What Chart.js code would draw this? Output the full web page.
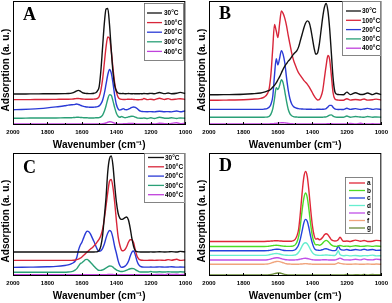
<!DOCTYPE html>
<html><head><meta charset="utf-8">
<script src="https://cdn.jsdelivr.net/npm/chart.js@4.4.1/dist/chart.umd.min.js"></script>
<style>
html,body{margin:0;padding:0;background:#fff;width:392px;height:303px;overflow:hidden}
canvas{position:absolute;display:block}
</style></head>
<body>
<canvas id="cA" width="196" height="152" style="left:0;top:0"></canvas>
<canvas id="cB" width="196" height="152" style="left:196px;top:0"></canvas>
<canvas id="cC" width="196" height="151" style="left:0;top:152px"></canvas>
<canvas id="cD" width="196" height="151" style="left:196px;top:152px"></canvas>
<script>
// Wavenumber grid (cm-1)
const wn = [2000,1950,1900,1850,1800,1750,1700,
 1680,1660,1650,1640,1630,1620,1610,1600,1590,1580,
 1570,1560,1550,1540,1530,1520,1510,1500,1490,1480,
 1470,1460,1450,1440,1430,1420,1410,1400,1390,1380,
 1370,1360,1350,1340,1330,1320,1310,1300,1290,1280,
 1270,1260,1250,1240,
 1220,1200,1180,1150,1120,1100,1080,1050,1030,1000];
const xTickLabels = [2000,1800,1600,1400,1200,1000];
const tempLabels = ['30°C','100°C','200°C','300°C','400°C'];
const sampleLabels = ['a','b','c','d','e','f','g'];

// Panel A
const aT30 = [25.0,25.0,25.1,25.1,25.2,25.2,25.3,
 25.4,25.7,26.1,26.8,27.6,27.9,27.3,26.4,25.8,25.5,
 25.4,25.3,25.3,25.4,25.6,26.0,27.5,31,44,63,
 82,93.5,94,81,61,43,32,27.5,25.8,25.4,
 25.3,25.4,25.2,25.3,25.4,25.3,25.2,25.3,25.2,25.2,
 25.2,25.3,25.2,25.4,
 25.2,25.5,25.2,26.2,25.3,25.8,25.2,25.6,26.3,25.4];
const aT100 = [20.5,20.5,20.5,20.6,20.6,20.7,20.8,
 20.8,20.9,21.0,21.2,21.4,21.4,21.2,21.0,20.9,20.8,
 20.8,20.8,20.8,20.8,20.9,21.0,21.5,23,28,37,
 50,63,71,70,60,46,34,26.5,22.5,21,
 20.7,20.6,20.6,20.7,20.8,20.7,20.8,20.6,20.5,20.4,
 20.4,20.5,20.6,21.4,
 20.5,20.8,20.4,21.6,20.6,21.3,20.5,20.9,21.2,20.6];
const aT200 = [12.3,12.5,12.8,13.2,13.8,14.6,15.5,
 16,16.3,16.4,16.6,16.9,16.5,16,15.4,15,14.7,
 14.5,14.4,14.3,14.3,14.4,14.5,14.8,15.4,17,20,
 25.5,33,40.5,44.8,42,34,24,16.5,13,12,
 12.5,13.2,12.4,12.3,12.8,13.5,14.2,14.5,14.2,13.3,
 12,11.2,10.9,10.8,
 10.7,10.8,10.6,11.1,10.7,10.8,10.6,11.3,10.7,11.4];
const aT300 = [5.5,5.5,5.6,5.6,5.7,5.7,5.8,
 5.8,5.9,6.0,6.1,6.2,6.2,6.1,6.0,5.9,5.8,
 5.8,5.7,5.7,5.7,5.7,5.8,5.8,6.0,6.6,8,
 11,15.5,21,24.5,24,19.5,14,9.5,7,6.2,
 6.9,6.3,5.9,6.1,6.5,6.9,7.1,6.9,6.3,5.8,
 5.5,5.4,5.4,5.6,
 5.3,5.9,5.3,6.2,5.5,5.4,5.8,5.3,5.7,5.4];
const aT400 = [0.8,0.8,0.8,0.8,0.8,0.8,0.8,
 0.8,0.8,0.9,0.9,0.9,0.9,0.9,0.9,0.8,0.8,
 0.8,0.8,0.8,0.8,0.8,0.8,0.8,0.8,0.9,1.0,
 1.2,1.6,2.2,2.6,2.5,2.0,1.4,1.0,0.9,0.9,
 0.9,1.0,1.0,1.1,1.2,1.3,1.3,1.2,1.0,0.9,
 0.8,0.8,0.8,0.9,
 0.8,1.0,0.9,1.4,1.1,0.9,1.3,1.8,1.0,1.5];

// Panel B
const bT30 = [24.4,24.4,24.5,24.6,24.8,25.2,25.8,
 26.5,27.5,28,29,30.5,32,34,36.5,39,42,
 45,47.5,49.5,51.5,53,55,57,58.5,60,63,
 68,73,78,82,84,83,78,70,62,57,
 58,65,76,87,95,98,92,78,58,38,
 27,25,24.6,24.5,
 24.4,26.5,24.5,26,24.6,24.8,25.8,24.5,25.6,24.5];
const bT100 = [20,20,20.1,20.2,20.4,20.8,21.5,
 22.5,25.5,30,42,62,81,76,70.5,82,92,
 90,86,80,72,65,58,52.5,48.5,45,42,
 40,38,36,34.5,33,31,28.5,26,23.5,21.5,
 20.2,20.5,23,28,38,48,56,53,40,26,
 21,20.3,20.1,20.0,
 20.0,21.2,20.1,20.6,20.2,21.0,20.1,20.4,20.9,20.1];
const bT200 = [12.6,12.6,12.6,12.6,12.6,12.6,12.6,
 12.8,13.5,14.5,17,23,40,53.5,48.5,54,60,
 57,50,38,28,21,17,15,14,13.5,13.2,
 13,12.9,12.8,12.8,12.7,12.7,12.7,12.6,12.6,12.6,
 12.7,12.7,12.6,12.7,12.8,13.2,14.5,15.8,15.8,14.3,
 13,12.6,12.5,12.6,
 12.5,13.5,12.6,13.2,12.5,12.9,13.4,12.6,13.0,12.5];
const bT300 = [6.2,6.2,6.2,6.2,6.2,6.2,6.2,
 6.3,6.5,7,9,13,21,30,28.5,32,36.5,
 34,27,19,12.5,9,7.5,6.8,6.5,6.4,6.3,
 6.3,6.2,6.2,6.2,6.2,6.2,6.2,6.2,6.3,6.3,
 6.3,6.2,6.2,6.3,6.4,6.6,7.2,8,8.2,7.2,
 6.5,6.3,6.2,6.2,
 6.2,7.2,6.3,6.8,6.4,6.2,6.9,6.3,6.5,6.2];
const bT400 = [0.8,0.8,0.8,0.8,0.8,0.8,0.8,
 0.8,0.9,0.9,1.0,1.1,1.2,1.3,1.5,1.7,1.8,
 1.8,1.7,1.5,1.3,1.1,1.0,0.9,0.9,0.8,0.8,
 0.8,0.8,0.8,0.8,0.8,0.8,0.8,0.8,0.8,0.8,
 0.8,0.8,0.8,0.8,0.8,0.9,1.0,1.1,1.0,0.9,
 0.8,0.8,0.8,0.8,
 0.9,0.8,1.2,0.9,1.4,0.9,0.8,1.1,0.8,0.9];

// Panel C
const cT30 = [19.5,19.5,19.5,19.5,19.5,19.5,19.5,
 19.5,19.5,19.5,19.5,19.5,19.5,19.5,19.5,19.5,19.5,
 19.5,19.5,19.5,19.5,19.5,19.6,19.8,20.8,24.5,33,
 48,64,85,95.5,97.5,90,74,60,51,47,
 46,46.5,47.5,48,45.5,39,30.5,24,20.5,19.8,
 19.6,19.5,19.5,19.5,
 19.5,19.6,19.5,19.7,19.5,19.6,19.8,19.5,20.0,19.6];
const cT100 = [12.7,12.7,12.7,12.7,12.7,12.7,12.7,
 12.7,12.7,12.8,13,13.3,13.8,14.5,15.5,16.8,18,
 19.5,20.8,22,23,24.5,26,28,30,33,38,
 46.5,57,68,77,78.5,72,60,45,32,25,
 21,20.5,21.5,24,27.5,29.5,29.5,27,21,16,
 13.8,13,12.8,12.7,
 12.7,12.8,12.7,12.9,12.7,13.3,12.8,13.6,12.7,13.0];
const cT200 = [7.0,7.1,7.2,7.3,7.5,7.8,8.5,
 9,10,10.8,12,15,21,25,27.5,31,34.5,
 36.5,36,34,31,28,24.5,21.5,20,20.5,22.5,
 26,31,35,37,36,31,24,18.5,12.5,8.5,
 7,7.3,8,9.5,12,16,19.5,20.3,17,12,
 9,7.8,7.3,7.2,
 7.2,7.3,7.2,7.4,7.2,7.3,7.5,7.2,7.3,7.2];
const cT300 = [3.0,3.0,3.0,3.0,3.0,3.0,3.0,
 3.2,3.6,4,4.8,6,8,10,10.8,12,13.3,
 13.5,12.5,11,9.5,8,6.5,5.2,4.6,4.6,5,
 5.6,6.5,7.5,8.1,8,7.2,6,5,4.3,3.8,
 3.6,3.8,4.2,4.8,5.4,5.9,6.1,6,5.2,4.3,
 3.6,3.3,3.2,3.2,
 3.2,3.6,3.2,3.4,3.2,3.5,3.3,3.2,3.4,3.2];
const cT400 = [1.1,1.1,1.1,1.1,1.1,1.1,1.1,
 1.1,1.1,1.1,1.1,1.1,1.1,1.1,1.1,1.1,1.1,
 1.1,1.1,1.1,1.1,1.1,1.1,1.1,1.1,1.1,1.1,
 1.1,1.1,1.2,1.2,1.2,1.2,1.1,1.1,1.1,1.1,
 1.1,1.1,1.1,1.1,1.1,1.1,1.1,1.1,1.1,1.1,
 1.1,1.1,1.1,1.1,
 1.1,1.2,1.1,1.3,1.1,1.6,1.2,1.4,1.1,1.2];

// Panel D
const dA = [28.1,28.1,28.1,28.1,28.1,28.1,28.1,
 28.1,28.2,28.3,28.4,28.5,28.6,28.6,28.6,28.5,28.4,
 28.3,28.2,28.2,28.2,28.2,28.3,28.7,29.8,32.5,38,
 51,67,80,85,81,69,54,41,33,30,
 30.5,29.5,30,31.5,33.5,34.3,33.5,31.5,29.5,28.8,
 28.5,28.6,29.5,31.5,
 28.2,28.4,28.1,29.2,28.2,28.9,28.1,28.3,29,28.6];
const dB = [24,24,24,24,24,24,24,
 24,24.1,24.3,24.5,24.7,24.9,25,24.9,24.7,24.5,
 24.3,24.2,24.1,24.1,24.1,24.2,24.5,25.3,27.5,32,
 41,53,63,67.5,64,54,42,32.5,27.5,25.3,
 25.5,25,25.5,26.8,28.3,29,28.3,26.8,25.3,24.5,
 24.2,24.1,24.5,24.8,
 24.1,24.3,24.0,24.6,24.1,24.2,24.5,24.1,24.4,24.0];
const dC = [20.5,20.5,20.5,20.5,20.5,20.5,20.5,
 20.5,20.6,20.8,21,21.3,21.6,21.8,21.8,21.6,21.2,
 20.9,20.7,20.6,20.6,20.6,20.6,20.8,21.3,22.8,25.5,
 30,36.5,43,46,44.5,39,32,26.5,22.8,21.2,
 21,20.8,21,21.5,22,22.2,21.8,21.2,20.8,20.6,
 20.6,21.5,24.5,22,
 21,21.5,20.8,21.5,21,21.8,21,21.6,20.8,21];
const dD = [16.8,16.8,16.8,16.8,16.8,16.8,16.8,
 16.8,17,17.3,17.6,17.9,18.2,18.3,18.2,17.9,17.5,
 17.2,17,16.9,16.8,16.8,16.8,16.9,17.1,17.8,19.3,
 21.5,24.3,26.5,27,26.2,24,21.3,19,17.7,17.1,
 16.9,16.8,16.8,16.9,17,17.1,17,16.9,16.8,16.7,
 16.7,18,20.5,17.5,
 16.5,16.8,16.4,16.7,16.3,16.6,16.5,17,16.4,16.5];
const dE = [13,13,13,13,13,13,13,
 13,13.2,13.5,13.9,14.3,14.6,14.8,14.8,14.5,14.1,
 13.7,13.4,13.2,13.1,13,13,13,13.1,13.2,13.4,
 13.7,14,14.3,14.4,14.2,13.9,13.5,13.2,13.1,13,
 13,13,13.1,13.2,13.2,13.2,13.1,13,13,13,
 13,13.3,14,14.5,
 13.3,13.1,13,13.6,13.1,13.9,13.2,13.1,13.7,13.2];
const dF = [9.5,9.5,9.5,9.5,9.5,9.5,9.5,
 9.6,9.8,10.1,10.5,11,11.5,11.8,11.9,11.7,11.3,
 10.8,10.3,10,9.8,9.7,9.6,9.6,9.6,9.6,9.6,
 9.7,9.8,10,10.1,10,9.8,9.7,9.6,9.5,9.5,
 9.5,9.5,9.5,9.5,9.5,9.5,9.5,9.5,9.5,9.5,
 9.6,10,10.8,10.2,
 9.7,9.6,9.5,9.8,9.5,9.6,9.8,9.5,9.7,9.5];
const dG = [0.8,0.8,0.8,0.8,0.8,0.8,0.8,
 0.8,0.9,1,1.2,1.5,1.9,2.2,2.4,2.4,2.1,
 1.7,1.3,1.0,0.9,0.8,0.8,0.8,0.8,0.8,0.8,
 0.8,0.8,0.8,0.8,0.8,0.8,0.8,0.8,0.8,0.8,
 0.8,0.8,0.8,0.8,0.8,0.8,0.8,0.8,0.8,0.8,
 0.8,0.8,0.8,0.8,
 0.8,1.3,0.8,1.1,0.9,1.2,0.8,1.3,1.0,1.2];

const tempColors = ['#111111','#d8263a','#2a3ad6','#2aa077','#c042dc'];
const sampleColors = ['#e02838','#4cdc24','#2244dc','#66eed0','#c050e8','#f0a47c','#6a8a38'];

const panelPlugin = {
  id: 'panel',
  afterDraw(chart, args, o) {
    const {ctx, chartArea: a, scales: {x}} = chart;
    ctx.save();
    ctx.strokeStyle = '#000'; ctx.lineWidth = 1;
    ctx.strokeRect(a.left + 0.5, a.top + 0.5, a.right - a.left - 1, a.bottom - a.top - 1);
    ctx.beginPath();
    for (let v = 1000; v <= 2000; v += 100) {
      const px = Math.round(x.getPixelForValue(v)) + 0.5;
      const len = (v % 200 === 0) ? 3 : 2;
      ctx.moveTo(px, a.bottom); ctx.lineTo(px, a.bottom - len);
    }
    ctx.stroke();
    ctx.fillStyle = '#000';
    ctx.font = 'bold 18px "Liberation Serif", "DejaVu Serif", serif';
    ctx.textAlign = 'left'; ctx.textBaseline = 'alphabetic';
    ctx.fillText(o.letter, a.left + 10, a.top + o.letterY);
    ctx.save();
    ctx.translate(6, a.top + o.yTitleY);
    ctx.rotate(-Math.PI / 2);
    ctx.font = 'bold 10px "Liberation Sans", Arial, sans-serif';
    ctx.textAlign = 'center'; ctx.textBaseline = 'middle';
    ctx.fillText('Adsorption (a. u.)', 0, 0);
    ctx.restore();
    const L = o.legend;
    ctx.fillStyle = '#fff';
    ctx.fillRect(L.x, L.y, L.w, L.h);
    ctx.strokeStyle = '#666'; ctx.lineWidth = 0.8;
    ctx.strokeRect(L.x + 0.5, L.y + 0.5, L.w - 1, L.h - 1);
    ctx.font = 'bold 6.5px "Liberation Sans", Arial, sans-serif';
    ctx.textBaseline = 'middle'; ctx.textAlign = 'left';
    chart.data.datasets.forEach((ds, i) => {
      const yy = L.y0 + i * L.dy;
      ctx.strokeStyle = ds.borderColor; ctx.lineWidth = 1.3;
      ctx.beginPath(); ctx.moveTo(L.lx0, yy); ctx.lineTo(L.lx1, yy); ctx.stroke();
      ctx.fillStyle = '#000';
      ctx.fillText(ds.label, L.tx, yy + 0.5);
    });
    ctx.restore();
  }
};

function makeChart(id, labels, colors, series, panel) {
  const datasets = series.map((s, i) => ({
    label: labels[i],
    data: wn.map((w, k) => ({x: w, y: s[k]})),
    borderColor: colors[i],
    borderWidth: 1.4,
    pointRadius: 0,
    fill: false,
    cubicInterpolationMode: 'monotone'
  }));
  new Chart(document.getElementById(id), {
    type: 'line',
    data: {datasets},
    plugins: [panelPlugin],
    options: {
      responsive: false,
      animation: false,
      devicePixelRatio: 1,
      layout: {padding: {left: 13, right: 10, top: 1, bottom: 0}},
      plugins: {legend: {display: false}, tooltip: {enabled: false}, panel},
      scales: {
        x: {
          type: 'linear', reverse: true, min: 1000, max: 2000,
          grid: {display: false, drawTicks: false},
          border: {display: false},
          afterFit: (s) => { s.height = 27; },
          ticks: {
            stepSize: 100, autoSkip: false, maxRotation: 0, padding: 4,
            color: '#000',
            font: {family: '"Liberation Sans", Arial, sans-serif', size: 6, weight: 'bold'},
            callback: (v) => xTickLabels.includes(v) ? String(v) : ''
          },
          title: {
            display: true, text: 'Wavenumber (cm⁻¹)', color: '#000',
            font: {family: '"Liberation Sans", Arial, sans-serif', size: 10, weight: 'bold'},
            padding: {top: 0, bottom: 0.5}
          }
        },
        y: {display: false, min: 0, max: 100}
      }
    }
  });
}

makeChart('cA', tempLabels, tempColors, [aT30, aT100, aT200, aT300, aT400],
  {letter: 'A', letterY: 19, yTitleY: 69,
   legend: {x: 144, y: 3, w: 40, h: 58, y0: 13, dy: 9.6, lx0: 147, lx1: 162, tx: 164}});
makeChart('cB', tempLabels, tempColors, [bT30, bT100, bT200, bT300, bT400],
  {letter: 'B', letterY: 18, yTitleY: 69,
   legend: {x: 146, y: 1, w: 39, h: 55, y0: 11, dy: 9.3, lx0: 150, lx1: 165, tx: 166}});
makeChart('cC', tempLabels, tempColors, [cT30, cT100, cT200, cT300, cT400],
  {letter: 'C', letterY: 20, yTitleY: 68,
   legend: {x: 144, y: 1, w: 41, h: 50, y0: 5.5, dy: 9.3, lx0: 148, lx1: 164, tx: 165}});
makeChart('cD', sampleLabels, sampleColors, [dA, dB, dC, dD, dE, dF, dG],
  {letter: 'D', letterY: 18, yTitleY: 68,
   legend: {x: 149, y: 25, w: 28, h: 57, y0: 31, dy: 7.5, lx0: 153, lx1: 169, tx: 171}});
</script>
</body></html>
